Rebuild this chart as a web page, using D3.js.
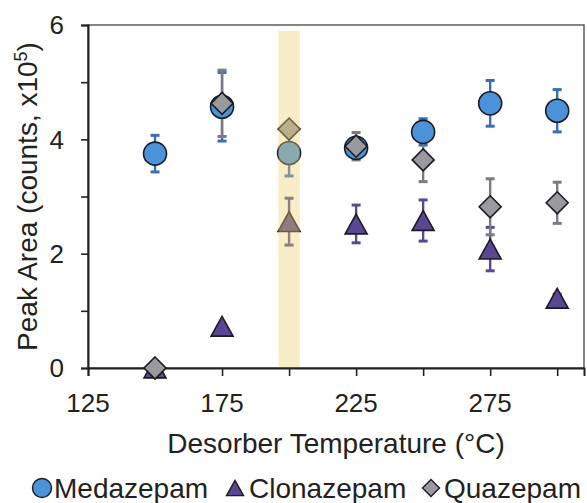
<!DOCTYPE html>
<html>
<head>
<meta charset="utf-8">
<script src="https://cdn.jsdelivr.net/npm/d3@7"></script>
<style>
  body { margin: 0; background: #fff; }
  text { font-family: "Liberation Sans", Arial, sans-serif; fill: #222; }
</style>
</head>
<body>
<div id="chart"></div>
<script>
// data (peak area, counts x10^5)
var temps = [150, 175, 200, 225, 250, 275, 300];
var medazepam    = [3.75, 4.57, 3.76, 3.85, 4.13, 4.63, 4.50];
var medazepamErr = [0.32, 0.60, 0.40, 0.05, 0.23, 0.40, 0.37];
var clonazepam    = [0.00, 0.73, 2.56, 2.52, 2.58, 2.08, 1.22];
var clonazepamErr = [0.00, 0.00, 0.41, 0.33, 0.36, 0.38, 0.07];
var quazepam    = [0.00, 4.63, 4.18, 3.88, 3.64, 2.82, 2.89];
var quazepamErr = [0.00, 0.58, 0.04, 0.24, 0.38, 0.49, 0.36];

var xTicks = [125, 150, 175, 200, 225, 250, 275, 300];
var xLabels = [125, 175, 225, 275];
var yTicks = [0, 1, 2, 3, 4, 5, 6];
var yLabels = [0, 2, 4, 6];
var band = [196, 204];

var width = 587, height = 503;

var svg = d3.select('#chart')
    .append('svg')
    .attr('width', width)
    .attr('height', height);

var x = d3.scaleLinear().domain([125, 310]).range([88, 584]);
var y = d3.scaleLinear().domain([0, 6]).range([368, 25]);

// frame
svg.append('rect')
    .attr('x', x(125)).attr('y', y(6))
    .attr('width', x(310) - x(125)).attr('height', y(0) - y(6))
    .attr('fill', 'none').attr('stroke', '#444').attr('stroke-width', 1.3);

// axes
var yAxis = svg.append('g')
    .attr('transform', 'translate(' + x(125) + ',0)')
    .call(d3.axisLeft(y).tickValues(yTicks).tickSize(7).tickFormat(''));
var xAxis = svg.append('g')
    .attr('transform', 'translate(0,' + y(0) + ')')
    .call(d3.axisBottom(x).tickValues(xTicks).tickSize(8).tickFormat(''));
[yAxis, xAxis].forEach(function (a) {
    a.select('.domain').attr('stroke', '#222').attr('stroke-width', 2);
    a.selectAll('.tick line').attr('stroke', '#222').attr('stroke-width', 1.6);
});

svg.selectAll('.ylab')
    .data(yLabels)
    .enter()
    .append('text')
    .attr('x', 64)
    .attr('y', function (d) { return y(d); })
    .attr('dy', '0.36em')
    .attr('text-anchor', 'end')
    .style('font-size', '26px')
    .text(function (d) { return d; });

svg.selectAll('.xlab')
    .data(xLabels)
    .enter()
    .append('text')
    .attr('x', function (d) { return x(d); })
    .attr('y', 412)
    .attr('text-anchor', 'middle')
    .style('font-size', '26px')
    .text(function (d) { return d; });

// axis titles
svg.append('text')
    .attr('x', (x(125) + x(310)) / 2)
    .attr('y', 453)
    .attr('text-anchor', 'middle')
    .style('font-size', '28px')
    .text('Desorber Temperature (°C)');

var yt = svg.append('text')
    .attr('transform', 'translate(37,' + ((y(0) + y(6)) / 2) + ') rotate(-90)')
    .attr('text-anchor', 'middle')
    .style('font-size', '28px');
yt.append('tspan').text('Peak Area (counts, x10');
yt.append('tspan').attr('dy', -10).style('font-size', '18px').text('5');
yt.append('tspan').attr('dy', 10).text(')');

// symbols
function triPath(s) {
    var h = s * 0.9;
    return 'M0,' + (-h / 2) + 'L' + (s / 2) + ',' + (h / 2) + 'L' + (-s / 2) + ',' + (h / 2) + 'Z';
}
function diaPath(s) {
    return 'M0,' + (-s) + 'L' + s + ',0L0,' + s + 'L' + (-s) + ',0Z';
}

var series = [
    { name: 'Medazepam', vals: medazepam, err: medazepamErr, fill: '#4a93d8', bar: '#3a6db3', shape: 'circle' },
    { name: 'Clonazepam', vals: clonazepam, err: clonazepamErr, fill: '#5a4791', bar: '#584a8c', shape: 'tri' },
    { name: 'Quazepam', vals: quazepam, err: quazepamErr, fill: '#9a9a9e', bar: '#7c7c80', shape: 'dia' }
];

// error bars first
series.forEach(function (s) {
    var g = svg.append('g');
    temps.forEach(function (t, i) {
        if (s.err[i] <= 0) return;
        var cx = x(t), y1 = y(s.vals[i] + s.err[i]), y2 = y(s.vals[i] - s.err[i]);
        g.append('line').attr('x1', cx).attr('x2', cx).attr('y1', y1).attr('y2', y2)
            .attr('stroke', s.bar).attr('stroke-width', 2.4);
        [y1, y2].forEach(function (yy) {
            g.append('line').attr('x1', cx - 4.5).attr('x2', cx + 4.5).attr('y1', yy).attr('y2', yy)
                .attr('stroke', s.bar).attr('stroke-width', 3);
        });
    });
});

function drawMark(sel, shape, fill, size) {
    if (shape === 'circle') {
        return sel.append('circle').attr('r', size).attr('fill', fill);
    } else if (shape === 'tri') {
        return sel.append('path').attr('d', triPath(size * 2)).attr('fill', fill);
    }
    return sel.append('path').attr('d', diaPath(size)).attr('fill', fill);
}

series.forEach(function (s) {
    temps.forEach(function (t, i) {
        var g = svg.append('g').attr('transform', 'translate(' + x(t) + ',' + y(s.vals[i]) + ')');
        drawMark(g, s.shape, s.fill, s.shape === 'circle' ? 11.5 : 11)
            .attr('stroke', '#1b1b26').attr('stroke-width', 1.6);
    });
});

// highlighted temperature band, laid over the marks
svg.append('rect')
    .attr('x', x(band[0])).attr('y', y(5.9))
    .attr('width', x(band[1]) - x(band[0])).attr('height', y(0) - y(5.9) - 1)
    .attr('fill', '#efcf6c').attr('opacity', 0.38);

// legend
var legendPos = [[42, 54], [235, 249], [431, 444]];
series.forEach(function (s, i) {
    var g = svg.append('g').attr('transform', 'translate(' + legendPos[i][0] + ',488)');
    drawMark(g, s.shape, s.fill, s.shape === 'circle' ? 9.5 : 8.5)
        .attr('stroke', '#1b1b26').attr('stroke-width', 1.4);
    svg.append('text')
        .attr('x', legendPos[i][1])
        .attr('y', 498)
        .style('font-size', '28px')
        .text(s.name);
});
</script>
</body>
</html>
